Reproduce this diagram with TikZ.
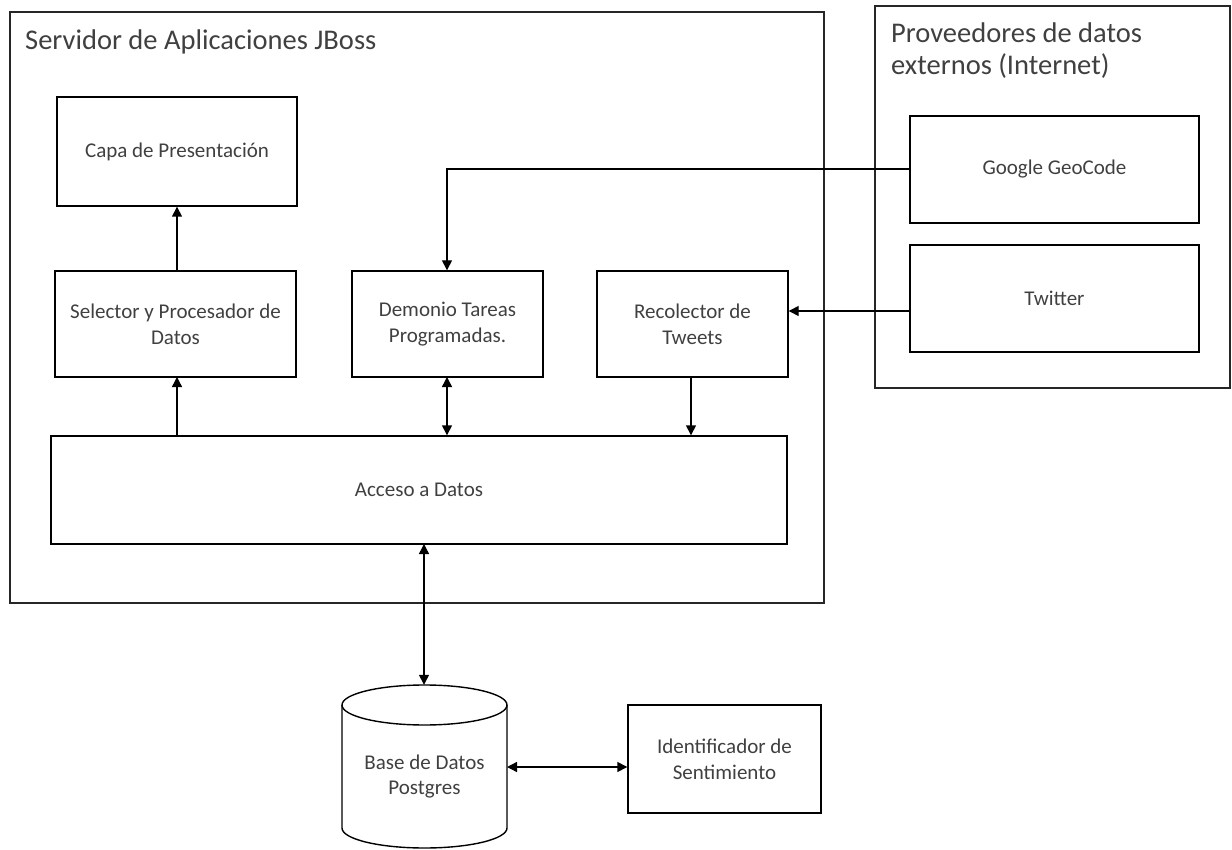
\documentclass[tikz,border=0pt]{standalone}
\usepackage{fontspec}
\setmainfont{Carlito}
\usetikzlibrary{arrows.meta}
\definecolor{txt}{HTML}{404040}
\tikzset{
  x=1pt, y=-1pt,
  box/.style={draw=black, line width=1.4pt, rectangle, inner sep=0pt, text=txt,
    font=\fontsize{21}{26}\selectfont, align=center},
  frame/.style={draw=black!85, line width=1.6pt},
  ttl/.style={text=txt, font=\fontsize{28.5}{32}\selectfont, align=left, inner sep=0pt},
  conn/.style={line width=1.4pt, draw=black},
  tip/.style={-{Triangle[length=10pt,width=10pt]}},
  tips/.style={{Triangle[length=10pt,width=10pt]}-{Triangle[length=10pt,width=10pt]}},
}
\newcommand{\boxat}[6]{% name, x1, y1, x2, y2, text
  \node[box, minimum width={#4-#2}, minimum height={#5-#3}] (#1) at ({(#2+#4)/2},{(#3+#5)/2}) {#6};}
\begin{document}
\begin{tikzpicture}
\useasboundingbox (0,0) rectangle (1232,850);
% frames
\draw[frame] (10,12) rectangle (824,603);
\draw[frame] (875,6) rectangle (1230,388);
\node[ttl, anchor=base west] (t1) at (25,50) {Servidor de Aplicaciones JBoss};
\node[ttl, anchor=base west] (t2) at (891,43) {Proveedores de datos};
\node[ttl, anchor=base west] (t3) at (891,75) {externos (Internet)};
% boxes
\boxat{capa}{57}{97}{297}{206}{Capa de Presentación}
\boxat{sel}{55}{271}{296}{377}{Selector y Procesador de\\Datos}
\boxat{dem}{352}{271}{543}{377}{Demonio Tareas\\Programadas.}
\boxat{rec}{597}{271}{788}{377}{Recolector de\\Tweets}
\boxat{acc}{51}{436}{787}{544}{Acceso a Datos}
\boxat{goo}{910}{116}{1199}{223}{Google GeoCode}
\boxat{twi}{910}{245}{1199}{352}{Twitter}
\boxat{idf}{628}{705}{821}{813}{Identificador de\\Sentimiento}
% database cylinder
\draw[line width=1.4pt, fill=white] (342,705) -- (342,828) arc[start angle=180, end angle=0, x radius=82.5, y radius=20] -- (507,705);
\draw[line width=1.4pt] (424.5,705) ellipse[x radius=82.5, y radius=20];
\node[minimum width=165, minimum height=163, inner sep=0pt] (db) at (424,766.5) {};
\node[text=txt, font=\fontsize{21}{25}\selectfont, align=center] (dbt) at (424.5,777) {Base de Datos\\Postgres};
\coordinate (dbr) at (507,767);
% connectors
\coordinate (selx) at (177,377);
\draw[conn, tip] (selx |- sel.north) -- (selx |- capa.south);
\draw[conn, tip] (selx |- acc.north) -- (selx);
\coordinate (demx) at (447,377);
\draw[conn, tips] (demx) -- (demx |- acc.north);
\coordinate (recx) at (691,377);
\draw[conn, tip] (recx) -- (recx |- acc.north);
\coordinate (dbx) at (424,544);
\draw[conn, tips] (dbx) -- (db.north);
\draw[conn, tips] (dbr) -- (dbr -| idf.west);
\draw[conn, tip] (twi.west |- 0,311) -- (rec.east |- 0,311);
\draw[conn, tip] (goo.west |- 0,169) -| (demx |- dem.north);
\end{tikzpicture}
\end{document}
